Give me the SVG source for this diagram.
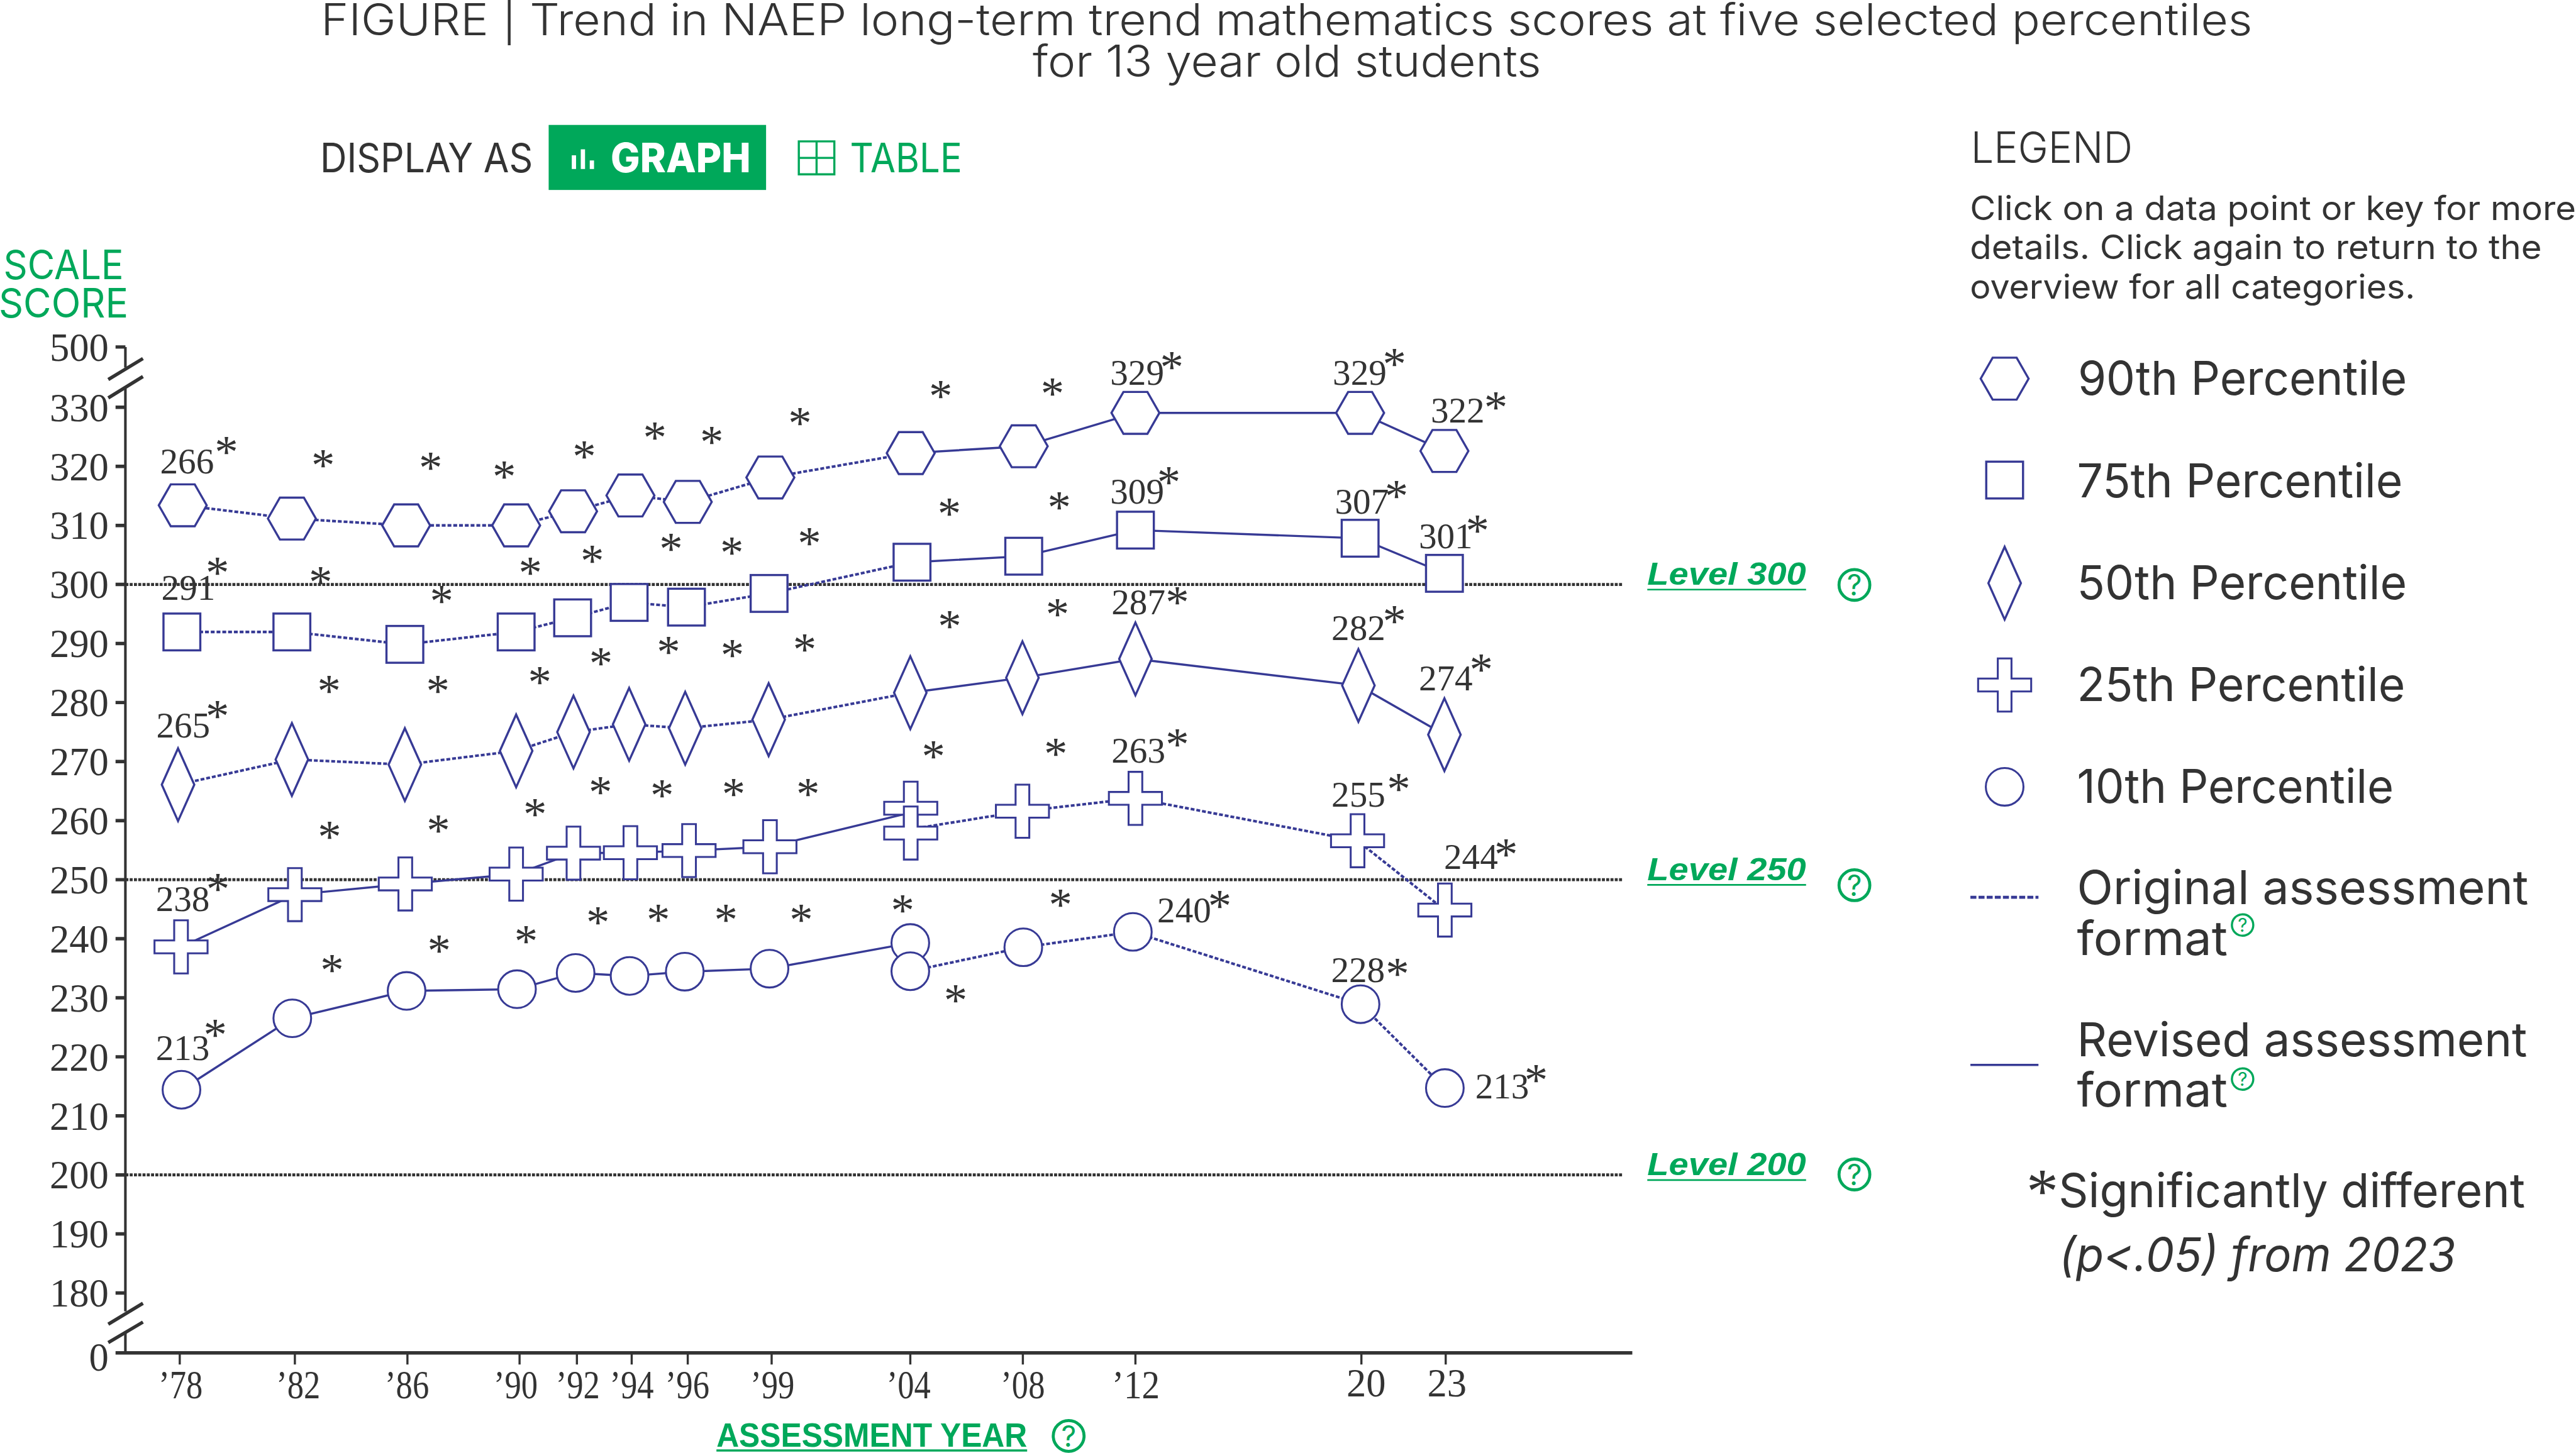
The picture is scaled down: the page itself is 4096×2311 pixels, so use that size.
<svg xmlns="http://www.w3.org/2000/svg" width="4096" height="2311" viewBox="0 0 4096 2311">
<style>
.ui{font-family:Inter,"Noto Sans","Liberation Sans",sans-serif;font-weight:400;fill:#333}
.b{font-weight:800}
.lv{font-family:"Liberation Sans",Arial,sans-serif;font-weight:700;font-style:italic;font-size:74px;fill:#00a85a}
.n{font-family:"Liberation Serif","Times New Roman",serif;fill:#333}
.ax{font-size:92px}
.yl{text-anchor:end}
.xl{text-anchor:middle}
.d{font-size:84px}
.s{font-family:"Liberation Serif","Times New Roman",serif;fill:#333;font-size:110px;text-anchor:middle}
.lab{font-size:110px}
.cl{font-size:78px}
.axl{stroke:#333;fill:none}
.grid{stroke:#333;stroke-width:7;stroke-dasharray:7 3;fill:none}
.sol{stroke:#373a95;stroke-width:5;fill:none}
.dot{stroke:#373a95;stroke-width:6;stroke-dasharray:9 4.5;fill:none}
.m{fill:#fff;stroke:#373a95;stroke-width:5}
.m2{fill:#fff;stroke:#373a95;stroke-width:4.5}
.q{fill:none;stroke:#00a85a;stroke-width:7}
.qt{font-family:Inter,"Noto Sans",sans-serif;font-weight:400;fill:#00a85a;text-anchor:middle}
</style>
<defs>
<polygon id="hex" class="m" points="-56,0 -28,-49 28,-49 56,0 28,49 -28,49"/>
<rect id="sq" class="m" x="-43" y="-43" width="86" height="86"/>
<polygon id="dia" class="m" points="0,-85 38,0 0,85 -38,0"/>
<polygon id="crs" class="m2" points="-16,-62 16,-62 16,-15 62,-15 62,15 16,15 16,62 -16,62 -16,15 -62,15 -62,-15 -16,-15"/>
<circle id="cir" class="m2" r="44"/>
</defs>
<rect width="4096" height="2311" fill="#fff"/>
<g transform="scale(0.68051)">
<g id="title">
<text class="ui" x="750" y="83" font-size="102" style="font-weight:300" textLength="4513" lengthAdjust="spacingAndGlyphs">FIGURE | Trend in NAEP long-term trend mathematics scores at five selected percentiles</text>
<text class="ui" x="2413" y="180" font-size="102" style="font-weight:300" textLength="1188" lengthAdjust="spacingAndGlyphs">for 13 year old students</text>
</g>
<g id="display-as">
<text class="ui" x="748" y="402" font-size="94" textLength="497" lengthAdjust="spacingAndGlyphs">DISPLAY AS</text>
<rect fill="#00a85a" x="1282" y="292" width="508" height="152"/>
<rect x="1336" y="363" width="10" height="32" fill="#fff"/>
<rect x="1357" y="349" width="10" height="46" fill="#fff"/>
<rect x="1378" y="375" width="10" height="20" fill="#fff"/>
<text x="1427" y="402" font-size="94" class="ui b" style="fill:#fff" textLength="327" lengthAdjust="spacingAndGlyphs">GRAPH</text>
<path d="M1866.500 330.500H1949.500V407.500H1866.500ZM1908 330.500V407.500M1866.500 369H1949.500" fill="none" stroke="#00a85a" stroke-width="5"/>
<text class="ui" style="fill:#00a85a" x="1986" y="402" font-size="94" textLength="262" lengthAdjust="spacingAndGlyphs">TABLE</text>
</g>
<g id="y-title">
<text class="ui" style="fill:#00a85a" x="8" y="652" font-size="94" textLength="281" lengthAdjust="spacingAndGlyphs">SCALE</text>
<text class="ui" style="fill:#00a85a" x="-3" y="742" font-size="94" textLength="303" lengthAdjust="spacingAndGlyphs">SCORE</text>
</g>
<g id="grid">
<path class="grid" d="M293 1366H3792M293 2056H3792M293 2746H3792"/>
</g>
<g id="axes">
<path class="axl" stroke-width="6" d="M293 811V859M293 908V3065M293 3115V3162"/>
<path class="axl" stroke-width="8" d="M270 811H293M270 952H293M270 1090H293M270 1228H293M270 1366H293M270 1504H293M270 1642H293M270 1780H293M270 1918H293M270 2056H293M270 2194H293M270 2332H293M270 2470H293M270 2608H293M270 2746H293M270 2884H293M270 3022H293"/>
<path class="axl" stroke-width="8" d="M270 3162H3814"/>
<path class="axl" stroke-width="5" d="M420 3162V3189M689 3162V3189M952 3162V3189M1214 3162V3189M1348 3162V3189M1476 3162V3189M1607 3162V3189M1803 3162V3189M2127 3162V3189M2390 3162V3189M2653 3162V3189M3181 3162V3189M3378 3162V3189"/>
<path class="axl" stroke-width="8" d="M253 887L334 838M253 930L334 880M253 3095L334 3046M253 3138L334 3090"/>
</g>
<g id="y-labels">
<text class="n ax yl" x="254" y="843">500</text>
<text class="n ax yl" x="254" y="984">330</text>
<text class="n ax yl" x="254" y="1122">320</text>
<text class="n ax yl" x="254" y="1260">310</text>
<text class="n ax yl" x="254" y="1398">300</text>
<text class="n ax yl" x="254" y="1536">290</text>
<text class="n ax yl" x="254" y="1674">280</text>
<text class="n ax yl" x="254" y="1812">270</text>
<text class="n ax yl" x="254" y="1950">260</text>
<text class="n ax yl" x="254" y="2088">250</text>
<text class="n ax yl" x="254" y="2226">240</text>
<text class="n ax yl" x="254" y="2364">230</text>
<text class="n ax yl" x="254" y="2502">220</text>
<text class="n ax yl" x="254" y="2640">210</text>
<text class="n ax yl" x="254" y="2778">200</text>
<text class="n ax yl" x="254" y="2916">190</text>
<text class="n ax yl" x="254" y="3054">180</text>
<text class="n ax yl" x="254" y="3204">0</text>
</g>
<g id="x-labels">
<text class="n ax xl" x="422" y="3268" textLength="103" lengthAdjust="spacingAndGlyphs">’78</text>
<text class="n ax xl" x="697" y="3268" textLength="103" lengthAdjust="spacingAndGlyphs">’82</text>
<text class="n ax xl" x="951" y="3268" textLength="103" lengthAdjust="spacingAndGlyphs">’86</text>
<text class="n ax xl" x="1205" y="3268" textLength="103" lengthAdjust="spacingAndGlyphs">’90</text>
<text class="n ax xl" x="1350" y="3268" textLength="103" lengthAdjust="spacingAndGlyphs">’92</text>
<text class="n ax xl" x="1476" y="3268" textLength="103" lengthAdjust="spacingAndGlyphs">’94</text>
<text class="n ax xl" x="1606" y="3268" textLength="103" lengthAdjust="spacingAndGlyphs">’96</text>
<text class="n ax xl" x="1805" y="3268" textLength="103" lengthAdjust="spacingAndGlyphs">’99</text>
<text class="n ax xl" x="2123" y="3268" textLength="103" lengthAdjust="spacingAndGlyphs">’04</text>
<text class="n ax xl" x="2390" y="3268" textLength="103" lengthAdjust="spacingAndGlyphs">’08</text>
<text class="n ax xl" x="2654" y="3268" textLength="112" lengthAdjust="spacingAndGlyphs">’12</text>
<text class="n ax xl" x="3192" y="3264">20</text>
<text class="n ax xl" x="3381" y="3264">23</text>
</g>
<g id="x-title">
<text class="ui" style="fill:#00a85a;font-family:'Liberation Sans',sans-serif;font-weight:700" x="1674" y="3382" font-size="80" textLength="726" lengthAdjust="spacingAndGlyphs">ASSESSMENT YEAR</text>
<path d="M1674 3390H2400" stroke="#00a85a" stroke-width="5"/>
<circle class="q" cx="2497" cy="3356" r="36"/>
<text class="qt" x="2497" y="3381" font-size="68">?</text>
</g>
<g id="levels">
<g id="level-300"><text class="lv" x="3849" y="1367" textLength="371" lengthAdjust="spacingAndGlyphs">Level 300</text><path d="M3849 1378H4220" stroke="#00a85a" stroke-width="4"/><circle class="q" cx="4333" cy="1367" r="36"/><text class="qt" x="4333" y="1392" font-size="68">?</text></g>
<g id="level-250"><text class="lv" x="3849" y="2057" textLength="371" lengthAdjust="spacingAndGlyphs">Level 250</text><path d="M3849 2068H4220" stroke="#00a85a" stroke-width="4"/><circle class="q" cx="4333" cy="2069" r="36"/><text class="qt" x="4333" y="2094" font-size="68">?</text></g>
<g id="level-200"><text class="lv" x="3849" y="2747" textLength="371" lengthAdjust="spacingAndGlyphs">Level 200</text><path d="M3849 2758H4220" stroke="#00a85a" stroke-width="4"/><circle class="q" cx="4333" cy="2745" r="36"/><text class="qt" x="4333" y="2770" font-size="68">?</text></g>
</g>
<g id="connectors">
<polyline class="dot" points="427,1181 682,1212 949,1228 1206,1228 1339,1195 1473,1158 1607,1173 1800,1116 2128,1059"/>
<polyline class="sol" points="2128,1059 2392,1043 2653,965 3178,965 3375,1054"/>
<polyline class="dot" points="425,1477 682,1477 946,1506 1206,1477 1338,1444 1470,1408 1604,1419 1797,1387 2131,1314"/>
<polyline class="sol" points="2131,1314 2392,1300 2653,1239 3178,1258 3375,1340"/>
<polyline class="dot" points="416,1834 682,1775 946,1787 1206,1755 1340,1711 1470,1693 1601,1702 1796,1682 2127,1619"/>
<polyline class="sol" points="2127,1619 2389,1584 2653,1540 3174,1602 3375,1717"/>
<polyline class="sol" points="423,2213 689,2091 947,2066 1206,2043 1340,1994 1473,1993 1610,1988 1799,1979 2128,1899"/>
<polyline class="dot" points="2128,1938 2389,1896 2653,1866 3172,1965 3376,2127"/>
<polyline class="sol" points="424,2547 683,2380 950,2316 1208,2312 1345,2274 1471,2281 1600,2271 1798,2264 2127,2204"/>
<polyline class="dot" points="2127,2270 2391,2214 2647,2178 3179,2347 3376,2543"/>
</g>
<g id="p90">
<use href="#hex" x="427" y="1181"/><use href="#hex" x="682" y="1212"/><use href="#hex" x="949" y="1228"/><use href="#hex" x="1206" y="1228"/><use href="#hex" x="1339" y="1195"/><use href="#hex" x="1473" y="1158"/><use href="#hex" x="1607" y="1173"/><use href="#hex" x="1800" y="1116"/><use href="#hex" x="2128" y="1059"/><use href="#hex" x="2392" y="1043"/><use href="#hex" x="2653" y="965"/><use href="#hex" x="3178" y="965"/><use href="#hex" x="3375" y="1054"/>
</g>
<g id="p75">
<use href="#sq" x="425" y="1477"/><use href="#sq" x="682" y="1477"/><use href="#sq" x="946" y="1506"/><use href="#sq" x="1206" y="1477"/><use href="#sq" x="1338" y="1444"/><use href="#sq" x="1470" y="1408"/><use href="#sq" x="1604" y="1419"/><use href="#sq" x="1797" y="1387"/><use href="#sq" x="2131" y="1314"/><use href="#sq" x="2392" y="1300"/><use href="#sq" x="2653" y="1239"/><use href="#sq" x="3178" y="1258"/><use href="#sq" x="3375" y="1340"/>
</g>
<g id="p50">
<use href="#dia" x="416" y="1834"/><use href="#dia" x="682" y="1775"/><use href="#dia" x="946" y="1787"/><use href="#dia" x="1206" y="1755"/><use href="#dia" x="1340" y="1711"/><use href="#dia" x="1470" y="1693"/><use href="#dia" x="1601" y="1702"/><use href="#dia" x="1796" y="1682"/><use href="#dia" x="2127" y="1619"/><use href="#dia" x="2389" y="1584"/><use href="#dia" x="2653" y="1540"/><use href="#dia" x="3174" y="1602"/><use href="#dia" x="3375" y="1717"/>
</g>
<g id="p25">
<use href="#crs" x="423" y="2213"/><use href="#crs" x="689" y="2091"/><use href="#crs" x="947" y="2066"/><use href="#crs" x="1206" y="2043"/><use href="#crs" x="1340" y="1994"/><use href="#crs" x="1473" y="1993"/><use href="#crs" x="1610" y="1988"/><use href="#crs" x="1799" y="1979"/><use href="#crs" x="2128" y="1889"/><use href="#crs" x="2128" y="1947"/><use href="#crs" x="2389" y="1896"/><use href="#crs" x="2653" y="1866"/><use href="#crs" x="3172" y="1965"/><use href="#crs" x="3376" y="2127"/>
</g>
<g id="p10">
<use href="#cir" x="424" y="2547"/><use href="#cir" x="683" y="2380"/><use href="#cir" x="950" y="2316"/><use href="#cir" x="1208" y="2312"/><use href="#cir" x="1345" y="2274"/><use href="#cir" x="1471" y="2281"/><use href="#cir" x="1600" y="2271"/><use href="#cir" x="1798" y="2264"/><use href="#cir" x="2127" y="2204"/><use href="#cir" x="2127" y="2270"/><use href="#cir" x="2391" y="2214"/><use href="#cir" x="2647" y="2178"/><use href="#cir" x="3179" y="2347"/><use href="#cir" x="3376" y="2543"/>
</g>
<g id="data-labels">
<text class="n d" x="374" y="1107">266</text><text class="n d" x="2594" y="899">329</text><text class="n d" x="3114" y="899">329</text><text class="n d" x="3343" y="988">322</text>
<text class="n d" x="377" y="1402">291</text><text class="n d" x="2594" y="1177">309</text><text class="n d" x="3119" y="1200">307</text><text class="n d" x="3315" y="1282">301</text>
<text class="n d" x="365" y="1724">265</text><text class="n d" x="2597" y="1436">287</text><text class="n d" x="3111" y="1496">282</text><text class="n d" x="3315" y="1614">274</text>
<text class="n d" x="364" y="2129">238</text><text class="n d" x="2597" y="1783">263</text><text class="n d" x="3111" y="1886">255</text><text class="n d" x="3374" y="2031">244</text>
<text class="n d" x="364" y="2477">213</text><text class="n d" x="2704" y="2156">240</text><text class="n d" x="3110" y="2296">228</text><text class="n d" x="3447" y="2567">213</text>
</g>
<g id="stars">
<text class="s" x="529" y="1094">*</text><text class="s" x="755" y="1124">*</text><text class="s" x="1006" y="1130">*</text><text class="s" x="1178" y="1151">*</text><text class="s" x="1365" y="1104">*</text><text class="s" x="1530" y="1060">*</text><text class="s" x="1663" y="1070">*</text><text class="s" x="1869" y="1026">*</text><text class="s" x="2198" y="963">*</text><text class="s" x="2459" y="957">*</text>
<text class="s" x="2738" y="895">*</text><text class="s" x="3258" y="887">*</text><text class="s" x="3495" y="989">*</text>
<text class="s" x="508" y="1375">*</text><text class="s" x="749" y="1397">*</text><text class="s" x="1032" y="1441">*</text><text class="s" x="1239" y="1376">*</text><text class="s" x="1384" y="1348">*</text><text class="s" x="1568" y="1320">*</text><text class="s" x="1710" y="1328">*</text><text class="s" x="1891" y="1307">*</text><text class="s" x="2218" y="1238">*</text><text class="s" x="2475" y="1223">*</text>
<text class="s" x="2731" y="1164">*</text><text class="s" x="3263" y="1196">*</text><text class="s" x="3452" y="1277">*</text>
<text class="s" x="508" y="1710">*</text><text class="s" x="769" y="1651">*</text><text class="s" x="1023" y="1651">*</text><text class="s" x="1261" y="1631">*</text><text class="s" x="1404" y="1587">*</text><text class="s" x="1562" y="1560">*</text><text class="s" x="1711" y="1568">*</text><text class="s" x="1880" y="1554">*</text><text class="s" x="2219" y="1500">*</text><text class="s" x="2471" y="1473">*</text>
<text class="s" x="2751" y="1445">*</text><text class="s" x="3258" y="1488">*</text><text class="s" x="3461" y="1602">*</text>
<text class="s" x="509" y="2115">*</text><text class="s" x="770" y="1992">*</text><text class="s" x="1024" y="1978">*</text><text class="s" x="1250" y="1939">*</text><text class="s" x="1403" y="1889">*</text><text class="s" x="1547" y="1895">*</text><text class="s" x="1714" y="1893">*</text><text class="s" x="1888" y="1893">*</text><text class="s" x="2181" y="1805">*</text><text class="s" x="2467" y="1798">*</text>
<text class="s" x="2751" y="1776">*</text><text class="s" x="3268" y="1881">*</text><text class="s" x="3519" y="2034">*</text>
<text class="s" x="503" y="2456">*</text><text class="s" x="776" y="2304">*</text><text class="s" x="1026" y="2258">*</text><text class="s" x="1229" y="2236">*</text><text class="s" x="1397" y="2192">*</text><text class="s" x="1538" y="2187">*</text><text class="s" x="1696" y="2187">*</text><text class="s" x="1872" y="2187">*</text><text class="s" x="2109" y="2165">*</text><text class="s" x="2478" y="2151">*</text><text class="s" x="2233" y="2374">*</text>
<text class="s" x="2850" y="2154">*</text><text class="s" x="3265" y="2313">*</text><text class="s" x="3589" y="2562">*</text>
</g>
<g id="legend">
<text class="ui" x="4605" y="381" font-size="100" style="font-weight:300" textLength="378" lengthAdjust="spacingAndGlyphs">LEGEND</text>
<text class="ui cl" x="4603" y="515" textLength="1416" lengthAdjust="spacingAndGlyphs">Click on a data point or key for more</text>
<text class="ui cl" x="4603" y="606" textLength="1336" lengthAdjust="spacingAndGlyphs">details. Click again to return to the</text>
<text class="ui cl" x="4603" y="698" textLength="1040" lengthAdjust="spacingAndGlyphs">overview for all categories.</text>
<g id="key-90"><use href="#hex" x="4684" y="885"/><text class="ui lab" x="4855" y="923" textLength="769" lengthAdjust="spacingAndGlyphs">90th Percentile</text></g>
<g id="key-75"><use href="#sq" x="4684" y="1122"/><text class="ui lab" x="4853" y="1162" textLength="761" lengthAdjust="spacingAndGlyphs">75th Percentile</text></g>
<g id="key-50"><use href="#dia" x="4684" y="1363"/><text class="ui lab" x="4853" y="1401" textLength="771" lengthAdjust="spacingAndGlyphs">50th Percentile</text></g>
<g id="key-25"><use href="#crs" x="4684" y="1601"/><text class="ui lab" x="4853" y="1638" textLength="767" lengthAdjust="spacingAndGlyphs">25th Percentile</text></g>
<g id="key-10"><use href="#cir" x="4684" y="1839"/><text class="ui lab" x="4853" y="1877" textLength="740" lengthAdjust="spacingAndGlyphs">10th Percentile</text></g>
<g id="key-original">
<path d="M4604 2097H4763" stroke="#373a95" stroke-width="7" stroke-dasharray="14 5"/>
<text class="ui lab" x="4853" y="2113" textLength="1055" lengthAdjust="spacingAndGlyphs">Original assessment</text>
<text class="ui lab" x="4853" y="2232" textLength="352" lengthAdjust="spacingAndGlyphs">format</text>
<circle class="q" style="stroke-width:5" cx="5240" cy="2162" r="25"/><text class="qt" x="5240" y="2178" font-size="44">?</text>
</g>
<g id="key-revised">
<path d="M4604 2489H4763" stroke="#373a95" stroke-width="5"/>
<text class="ui lab" x="4853" y="2469" textLength="1052" lengthAdjust="spacingAndGlyphs">Revised assessment</text>
<text class="ui lab" x="4853" y="2587" textLength="352" lengthAdjust="spacingAndGlyphs">format</text>
<circle class="q" style="stroke-width:5" cx="5240" cy="2522" r="25"/><text class="qt" x="5240" y="2538" font-size="44">?</text>
</g>
<g id="key-significant">
<text class="s" style="font-size:150px" x="4772" y="2835">*</text>
<text class="ui lab" x="4810" y="2822" textLength="1090" lengthAdjust="spacingAndGlyphs">Significantly different</text>
<text class="ui lab" font-style="italic" x="4812" y="2971" textLength="926" lengthAdjust="spacingAndGlyphs">(p&lt;.05) from 2023</text>
</g>
</g>
</g>
</svg>
